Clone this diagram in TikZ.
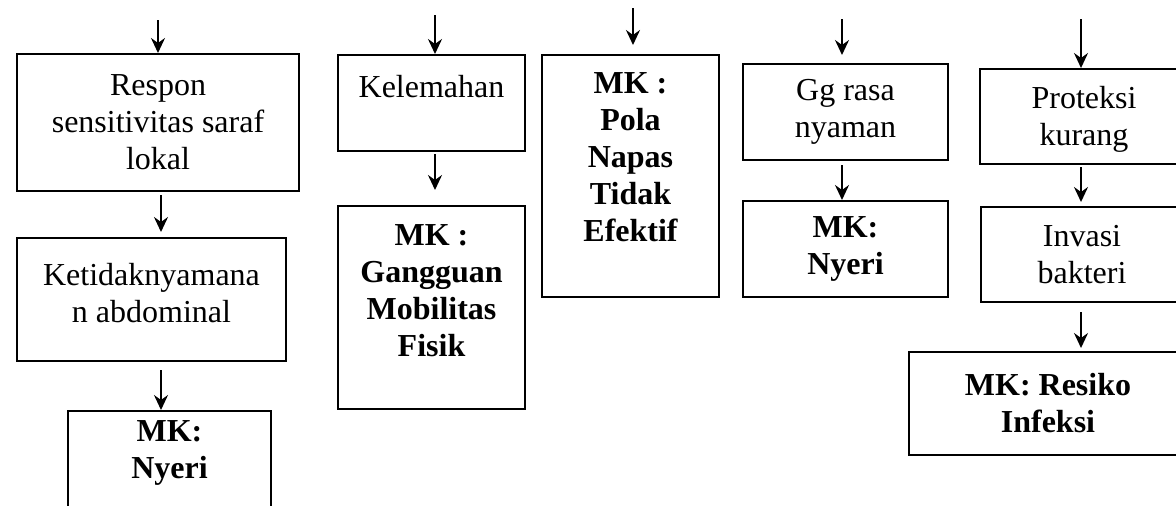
\documentclass[tikz,border=0pt]{standalone}
\usepackage{fontspec}
\setmainfont{Liberation Serif}
\usetikzlibrary{arrows.meta}
\tikzset{
  kotak/.style={draw,line width=1pt,align=center,inner sep=2pt,anchor=north west,
    font=\fontsize{16}{18.5}\selectfont},
  mk/.style={kotak,font=\fontsize{16}{18.5}\selectfont\bfseries},
  panah/.style={line width=1pt,-{Stealth[length=7.5pt,width=7pt,inset=2.5pt]}}
}
\begin{document}
\begin{tikzpicture}[x=0.5pt,y=-0.5pt]
	\clip (0,0) rectangle (1176,505);
	% kolom 1
	\node[kotak,minimum width=141pt,minimum height=68.5pt] (resp) at (16,53) {Respon\\sensitivitas saraf\\lokal};
	\node[kotak,minimum width=134.5pt,minimum height=61.5pt,text depth=7pt] (ketid) at (16,237) {Ketidaknyamana\\n abdominal};
	\node[mk,minimum width=101.5pt,minimum height=65pt,text depth=26pt] (nyeri1) at (67,410) {MK:\\Nyeri};
	% kolom 2
	\node[kotak,minimum width=93.5pt,minimum height=48pt,text depth=17pt] (lemah) at (337,54) {Kelemahan};
	\node[mk,minimum width=93.5pt,minimum height=101.5pt,text depth=17pt] (gangg) at (337,205) {MK :\\Gangguan\\Mobilitas\\Fisik};
	% kolom 3
	\node[mk,minimum width=88.5pt,minimum height=121pt,text depth=19pt] (pola) at (541,54) {MK :\\Pola\\Napas\\Tidak\\Efektif};
	% kolom 4
	\node[kotak,minimum width=102.5pt,minimum height=48pt] (ggrasa) at (742,63) {Gg rasa\\nyaman};
	\node[mk,minimum width=102.5pt,minimum height=48pt] (nyeri2) at (742,200) {MK:\\Nyeri};
	% kolom 5
	\node[kotak,minimum width=104pt,minimum height=47.5pt,text depth=1pt] (prot) at (979,68) {Proteksi\\kurang};
	\node[kotak,minimum width=101pt,minimum height=47.5pt] (invasi) at (980,206) {Invasi\\bakteri};
	\node[mk,minimum width=139pt,minimum height=51.5pt] (resiko) at (908,351) {MK: Resiko\\Infeksi};

	% panah masuk dari atas
	\coordinate (in1) at (158,20);
	\coordinate (in2) at (435,15);
	\coordinate (in3) at (633,8);
	\coordinate (in4) at (842,19);
	\coordinate (in5) at (1081,19);
	\draw[panah] (in1) -- (in1 |- resp.north);
	\draw[panah] (in2) -- (in2 |- lemah.north);
	\draw[panah,shorten >=4.5pt] (in3) -- (in3 |- pola.north);
	\draw[panah,shorten >=4pt] (in4) -- (in4 |- ggrasa.north);
	\draw[panah] (in5) -- (in5 |- prot.north);

	% panah antar kotak
	\draw[panah,shorten <=1.5pt,shorten >=2.5pt] ([xshift=1.5pt]resp.south) -- ([xshift=1.5pt]resp.south |- ketid.north);
	\draw[panah,shorten <=4pt] ([xshift=4.75pt]ketid.south) -- ([xshift=4.75pt]ketid.south |- nyeri1.north);
	\draw[panah,shorten <=1pt,shorten >=7.5pt] (in2 |- lemah.south) -- (in2 |- gangg.north);
	\draw[panah,shorten <=2pt] (in4 |- ggrasa.south) -- (in4 |- nyeri2.north);
	\draw[panah,shorten <=1pt,shorten >=2pt] (in5 |- prot.south) -- (in5 |- invasi.north);
	\draw[panah,shorten <=4.5pt,shorten >=1.5pt] (in5 |- invasi.south) -- (in5 |- resiko.north);
\end{tikzpicture}
\end{document}
